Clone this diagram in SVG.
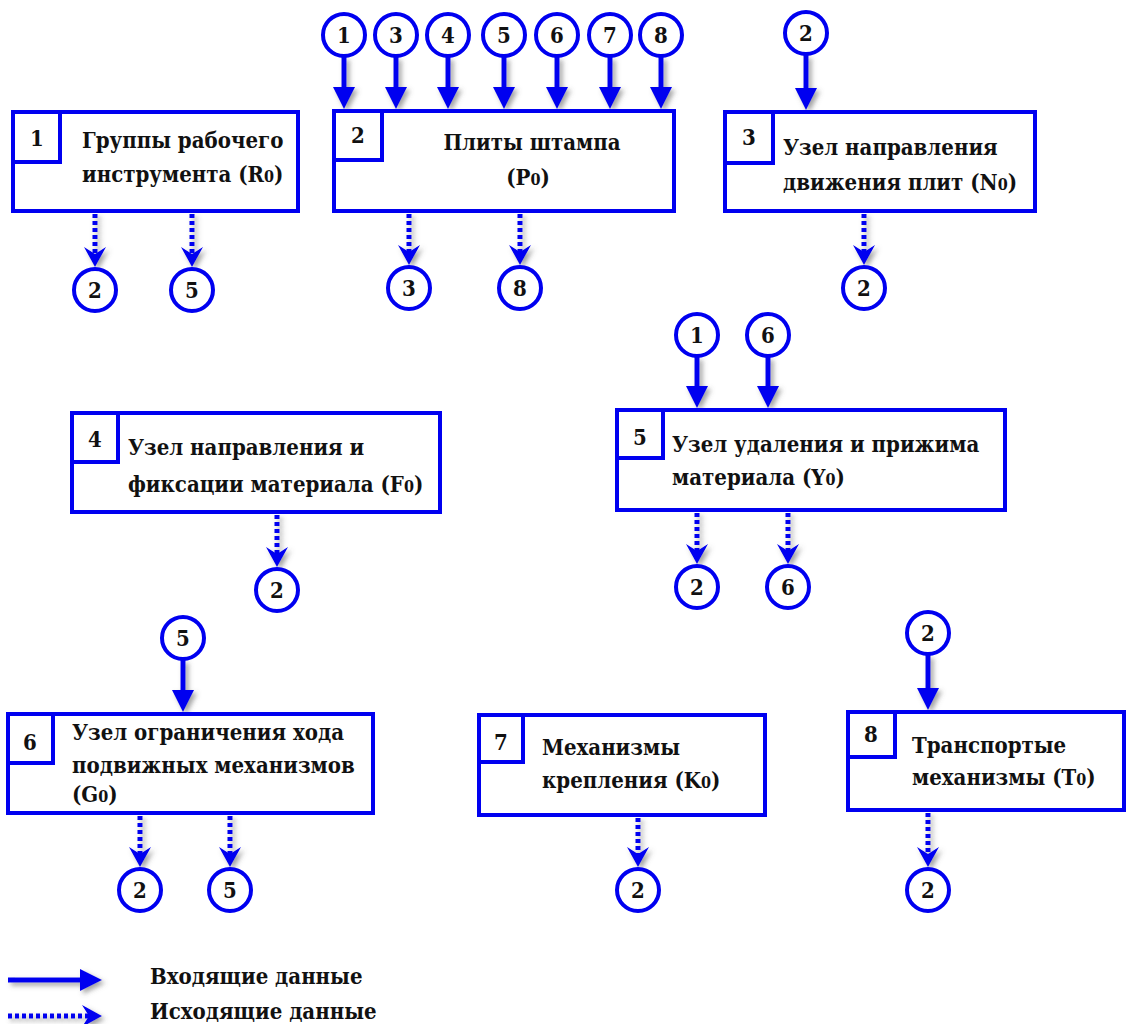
<svg xmlns="http://www.w3.org/2000/svg" width="1128" height="1024" viewBox="0 0 1128 1024">
  <defs>
    <style>
      .box { fill: #ffffff; stroke: #0000f0; stroke-width: 4; }
      .tag { fill: #ffffff; stroke: #0000f0; stroke-width: 4; }
      .ref { fill: #ffffff; stroke: #0000f0; stroke-width: 4; }
      .txt { font-weight: bold; font-size: 22px; fill: #111111; }
      .num { font-weight: bold; font-size: 22px; fill: #111111; text-anchor: middle; }
      .sub { font-size: 16px; }
      .in { fill: none; stroke: #0000f0; stroke-width: 5; marker-end: url(#headIn); }
      .out { fill: none; stroke: #0000f0; stroke-width: 5; stroke-dasharray: 4 3; marker-end: url(#headOut); }
    </style>
    <marker id="headIn" markerUnits="userSpaceOnUse" viewBox="-2 -13 26 26" markerWidth="26" markerHeight="26" refX="10" refY="0" orient="auto">
      <path d="M0,-11 L22,0 L0,11 Z" fill="#0000f0"/>
    </marker>
    <marker id="headOut" markerUnits="userSpaceOnUse" viewBox="-2 -13 26 26" markerWidth="26" markerHeight="26" refX="8" refY="0" orient="auto">
      <path d="M0,-11 L20,0 L0,11 L7,0 Z" fill="#0000f0"/>
    </marker>
    <filter id="shadow" x="-50%" y="-50%" width="200%" height="200%">
      <feDropShadow dx="3" dy="3" stdDeviation="2.5" flood-color="#555555" flood-opacity="0.55"/>
    </filter>
  </defs>

  <rect width="1128" height="1024" fill="#ffffff"/>

  <!-- connectors: solid = incoming, dotted = outgoing -->
  <g id="connectors" filter="url(#shadow)">
    <!-- into node 2 -->
    <line class="in" x1="344" y1="57" x2="344" y2="97"/>
    <line class="in" x1="396" y1="57" x2="396" y2="97"/>
    <line class="in" x1="448" y1="57" x2="448" y2="97"/>
    <line class="in" x1="504" y1="57" x2="504" y2="97"/>
    <line class="in" x1="557" y1="57" x2="557" y2="97"/>
    <line class="in" x1="610" y1="57" x2="610" y2="97"/>
    <line class="in" x1="661" y1="57" x2="661" y2="97"/>
    <!-- into node 3 -->
    <line class="in" x1="806" y1="55" x2="806" y2="98"/>
    <!-- into node 5 -->
    <line class="in" x1="697" y1="357" x2="697" y2="396"/>
    <line class="in" x1="768" y1="357" x2="768" y2="396"/>
    <!-- into node 6 -->
    <line class="in" x1="183" y1="660" x2="183" y2="700"/>
    <!-- into node 8 -->
    <line class="in" x1="928" y1="655" x2="928" y2="698"/>

    <!-- out of node 1 -->
    <line class="out" x1="95" y1="214" x2="95" y2="255"/>
    <line class="out" x1="192" y1="214" x2="192" y2="255"/>
    <!-- out of node 2 -->
    <line class="out" x1="409" y1="214" x2="409" y2="253"/>
    <line class="out" x1="520" y1="214" x2="520" y2="253"/>
    <!-- out of node 3 -->
    <line class="out" x1="864" y1="214" x2="864" y2="253"/>
    <!-- out of node 4 -->
    <line class="out" x1="277" y1="515" x2="277" y2="555"/>
    <!-- out of node 5 -->
    <line class="out" x1="697" y1="513" x2="697" y2="552"/>
    <line class="out" x1="788" y1="513" x2="788" y2="552"/>
    <!-- out of node 6 -->
    <line class="out" x1="140" y1="816" x2="140" y2="855"/>
    <line class="out" x1="230" y1="816" x2="230" y2="855"/>
    <!-- out of node 7 -->
    <line class="out" x1="638" y1="818" x2="638" y2="855"/>
    <!-- out of node 8 -->
    <line class="out" x1="928" y1="813" x2="928" y2="855"/>

    <!-- legend arrows -->
    <line class="in" x1="8" y1="980" x2="90" y2="980"/>
    <line class="out" x1="8" y1="1016" x2="90" y2="1016"/>
  </g>

  <g font-family="'DejaVu Serif Condensed', 'DejaVu Serif', 'Liberation Serif', serif">
  <!-- reference circles -->
  <g id="refs">
    <g id="ref-top-2">
      <circle class="ref" cx="344" cy="35" r="21"/><text class="num" x="344" y="43">1</text>
      <circle class="ref" cx="396" cy="35" r="21"/><text class="num" x="396" y="43">3</text>
      <circle class="ref" cx="448" cy="35" r="21"/><text class="num" x="448" y="43">4</text>
      <circle class="ref" cx="504" cy="35" r="21"/><text class="num" x="504" y="43">5</text>
      <circle class="ref" cx="557" cy="35" r="21"/><text class="num" x="557" y="43">6</text>
      <circle class="ref" cx="610" cy="35" r="21"/><text class="num" x="610" y="43">7</text>
      <circle class="ref" cx="661" cy="35" r="21"/><text class="num" x="661" y="43">8</text>
    </g>
    <g id="ref-top-3"><circle class="ref" cx="806" cy="33" r="21"/><text class="num" x="806" y="41">2</text></g>
    <g id="ref-top-5">
      <circle class="ref" cx="697" cy="335" r="21"/><text class="num" x="697" y="343">1</text>
      <circle class="ref" cx="768" cy="335" r="21"/><text class="num" x="768" y="343">6</text>
    </g>
    <g id="ref-top-6"><circle class="ref" cx="183" cy="638" r="21"/><text class="num" x="183" y="646">5</text></g>
    <g id="ref-top-8"><circle class="ref" cx="928" cy="633" r="21"/><text class="num" x="928" y="641">2</text></g>

    <g id="ref-out-1">
      <circle class="ref" cx="95" cy="290" r="21"/><text class="num" x="95" y="298">2</text>
      <circle class="ref" cx="192" cy="290" r="21"/><text class="num" x="192" y="298">5</text>
    </g>
    <g id="ref-out-2">
      <circle class="ref" cx="409" cy="288" r="21"/><text class="num" x="409" y="296">3</text>
      <circle class="ref" cx="520" cy="288" r="21"/><text class="num" x="520" y="296">8</text>
    </g>
    <g id="ref-out-3"><circle class="ref" cx="864" cy="288" r="21"/><text class="num" x="864" y="296">2</text></g>
    <g id="ref-out-4"><circle class="ref" cx="277" cy="590" r="21"/><text class="num" x="277" y="598">2</text></g>
    <g id="ref-out-5">
      <circle class="ref" cx="697" cy="587" r="21"/><text class="num" x="697" y="595">2</text>
      <circle class="ref" cx="788" cy="587" r="21"/><text class="num" x="788" y="595">6</text>
    </g>
    <g id="ref-out-6">
      <circle class="ref" cx="140" cy="890" r="21"/><text class="num" x="140" y="898">2</text>
      <circle class="ref" cx="230" cy="890" r="21"/><text class="num" x="230" y="898">5</text>
    </g>
    <g id="ref-out-7"><circle class="ref" cx="638" cy="890" r="21"/><text class="num" x="638" y="898">2</text></g>
    <g id="ref-out-8"><circle class="ref" cx="928" cy="890" r="21"/><text class="num" x="928" y="898">2</text></g>
  </g>

  <!-- nodes -->
  <g id="node-1">
    <rect class="box" x="13" y="112" width="285" height="99"/>
    <rect class="tag" x="13" y="112" width="47" height="50"/>
    <text class="num" x="37" y="146">1</text>
    <text class="txt" x="82" y="148">Группы рабочего</text>
    <text class="txt" x="82" y="182">инструмента (R<tspan class="sub">0</tspan>)</text>
  </g>

  <g id="node-2">
    <rect class="box" x="334" y="111" width="340" height="100"/>
    <rect class="tag" x="334" y="111" width="48" height="49"/>
    <text class="num" x="358" y="143">2</text>
    <text class="txt" x="532" y="150" text-anchor="middle">Плиты штампа</text>
    <text class="txt" x="528" y="185" text-anchor="middle">(P<tspan class="sub">0</tspan>)</text>
  </g>

  <g id="node-3">
    <rect class="box" x="725" y="112" width="310" height="99"/>
    <rect class="tag" x="725" y="112" width="48" height="51"/>
    <text class="num" x="749" y="145">3</text>
    <text class="txt" x="783" y="155">Узел направления</text>
    <text class="txt" x="783" y="190">движения плит (N<tspan class="sub">0</tspan>)</text>
  </g>

  <g id="node-4">
    <rect class="box" x="72" y="413" width="368" height="99"/>
    <rect class="tag" x="72" y="413" width="46" height="49"/>
    <text class="num" x="95" y="447">4</text>
    <text class="txt" x="128" y="455">Узел направления и</text>
    <text class="txt" x="128" y="492">фиксации материала (F<tspan class="sub">0</tspan>)</text>
  </g>

  <g id="node-5">
    <rect class="box" x="617" y="410" width="388" height="100"/>
    <rect class="tag" x="617" y="410" width="46" height="48"/>
    <text class="num" x="640" y="445">5</text>
    <text class="txt" x="672" y="452">Узел удаления и прижима</text>
    <text class="txt" x="672" y="485">материала (Y<tspan class="sub">0</tspan>)</text>
  </g>

  <g id="node-6">
    <rect class="box" x="8" y="714" width="365" height="99"/>
    <rect class="tag" x="8" y="714" width="45" height="49"/>
    <text class="num" x="30" y="750">6</text>
    <text class="txt" x="72" y="740">Узел ограничения хода</text>
    <text class="txt" x="72" y="773">подвижных механизмов</text>
    <text class="txt" x="72" y="802">(G<tspan class="sub">0</tspan>)</text>
  </g>

  <g id="node-7">
    <rect class="box" x="479" y="715" width="286" height="100"/>
    <rect class="tag" x="479" y="715" width="44" height="47"/>
    <text class="num" x="501" y="750">7</text>
    <text class="txt" x="542" y="755">Механизмы</text>
    <text class="txt" x="542" y="788">крепления (K<tspan class="sub">0</tspan>)</text>
  </g>

  <g id="node-8">
    <rect class="box" x="848" y="712" width="276" height="98"/>
    <rect class="tag" x="848" y="712" width="47" height="45"/>
    <text class="num" x="871" y="742">8</text>
    <text class="txt" x="912" y="753">Транспортые</text>
    <text class="txt" x="912" y="785">механизмы (T<tspan class="sub">0</tspan>)</text>
  </g>

  <!-- legend -->
  <g id="legend">
    <text class="txt" x="150" y="984">Входящие данные</text>
    <text class="txt" x="150" y="1019">Исходящие данные</text>
  </g>
  </g>
</svg>
